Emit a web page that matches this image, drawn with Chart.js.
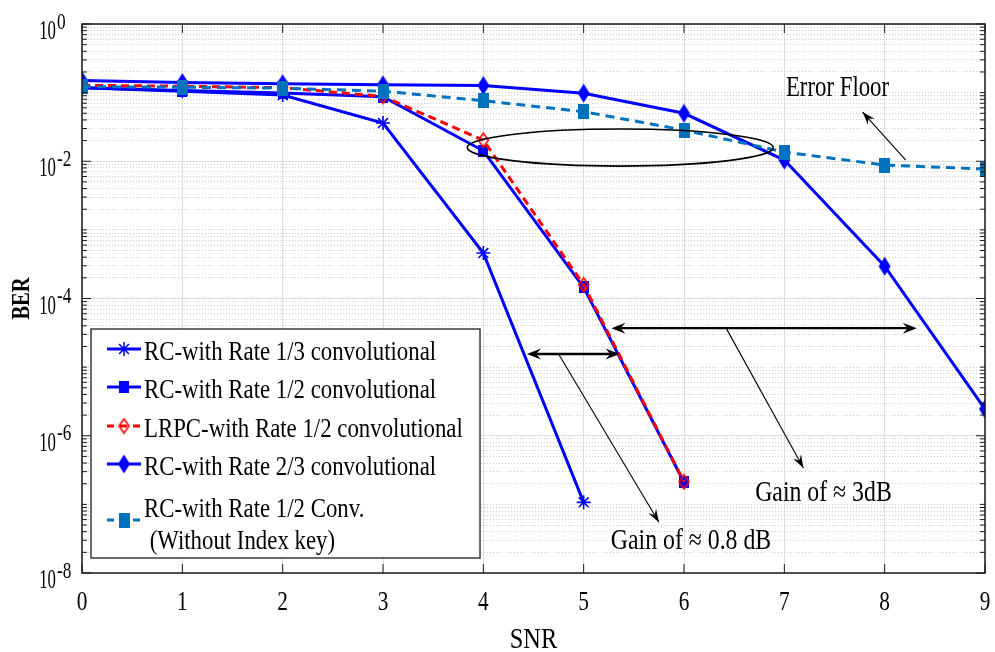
<!DOCTYPE html>
<html>
<head>
<meta charset="utf-8">
<script src="https://cdn.jsdelivr.net/npm/chart.js@4.4.1/dist/chart.umd.min.js"></script>
<style>
  html, body { margin: 0; padding: 0; background: #fff; }
  #wrap { width: 995px; height: 652px; }
</style>
</head>
<body>
<div id="wrap"><canvas id="berChart" width="995" height="652"></canvas></div>
<script>
// SNR (x) values and BER curves
const snr = [0, 1, 2, 3, 4, 5, 6, 7, 8, 9];
const berRate13 = [0.118, 0.105, 0.092, 0.036, 4.6e-4, 1.07e-7];
const berRate12 = [0.118, 0.107, 0.099, 0.087, 0.0142, 1.45e-4, 2.1e-7];
const berLrpc12 = [0.128, 0.124, 0.118, 0.088, 0.0203, 1.58e-4, 2.13e-7];
const berRate23 = [0.15, 0.14, 0.135, 0.13, 0.127, 0.098, 0.050, 0.0104, 2.95e-4, 2.45e-6];
const berNoIndex = [0.122, 0.12, 0.116, 0.105, 0.0762, 0.0527, 0.0285, 0.0136, 0.0088, 0.0077];

const seriesNames = [
  ["RC-with Rate 1/3 convolutional"],
  ["RC-with Rate 1/2 convolutional"],
  ["LRPC-with Rate 1/2 convolutional"],
  ["RC-with Rate 2/3 convolutional"],
  ["RC-with Rate 1/2 Conv.", " (Without Index key)"]
];

const xTicks = [0, 1, 2, 3, 4, 5, 6, 7, 8, 9];
const yTicks = [1, 1e-2, 1e-4, 1e-6, 1e-8];
const yTickExp = ["0", "-2", "-4", "-6", "-8"];

// annotations, in data units (SNR, BER)
const ellipseNote = { x0: 3.84, x1: 6.89, yTop: 0.0295, yBot: 0.0085 };
const errorFloorNote = { text: "Error Floor", x: 7.53, y: 0.125, from: [8.21, 0.0104], to: [7.78, 0.052] };
const gainSmall = { text: "Gain of \u2248 0.8 dB", x: 6.07, y: 3.1e-8, span: [4.435, 5.357, 1.55e-5], from: [4.75, 1.55e-5], to: [5.75, 5.5e-8] };
const gainBig = { text: "Gain of \u2248 3dB", x: 7.39, y: 1.55e-7, span: [5.277, 8.32, 3.7e-5], from: [6.42, 3.7e-5], to: [7.19, 3.4e-7] };

// minor grid values: k * 10^e, except the labelled decades
const yMinor = [];
for (let e = -8; e < 0; e++) {
  for (let k = 1; k <= 9; k++) {
    const v = k * Math.pow(10, e);
    if (!yTicks.some(t => Math.abs(t - v) < v * 1e-6)) yMinor.push(v);
  }
}

const BLUE = "#0000ff";
const RED = "#ff0000";
const STEEL = "#0072bd";
const FONT = '"Liberation Serif", "Times New Roman", serif';

function markerCanvas(w, h, draw) {
  const c = document.createElement("canvas");
  c.width = w; c.height = h;
  draw(c.getContext("2d"), w, h);
  return c;
}
function diamondPath(g, w, h, p) {
  g.beginPath();
  g.moveTo(w / 2, p); g.lineTo(w - p, h / 2); g.lineTo(w / 2, h - p); g.lineTo(p, h / 2);
  g.closePath();
}
const mkDiamond = markerCanvas(13, 20, (g, w, h) => { g.fillStyle = BLUE; diamondPath(g, w, h, 0.5); g.fill(); });
const mkOpenDiamond = markerCanvas(13, 17, (g, w, h) => { g.strokeStyle = RED; g.lineWidth = 1.6; diamondPath(g, w, h, 1.5); g.stroke(); });
const mkSquare = markerCanvas(10, 12, (g, w, h) => { g.fillStyle = BLUE; g.fillRect(0, 0, w, h); });
const mkSteelSquare = markerCanvas(11, 15, (g, w, h) => { g.fillStyle = STEEL; g.fillRect(0, 0, w, h); });

function pts(arr) {
  return arr.map((v, i) => ({ x: snr[i], y: v }));
}

function drawText(ctx, str, x, y, size, sx, align, weight) {
  ctx.save();
  ctx.translate(x, y + 0.33 * size);
  ctx.scale(sx, 1);
  ctx.font = (weight || "normal") + " " + size + "px " + FONT;
  ctx.textAlign = align || "center";
  ctx.textBaseline = "alphabetic";
  ctx.fillStyle = "#000";
  ctx.fillText(str, 0, 0);
  ctx.restore();
}

function arrowHead(ctx, x1, y1, x2, y2, len, wid) {
  const a = Math.atan2(y2 - y1, x2 - x1);
  ctx.save();
  ctx.translate(x2, y2);
  ctx.rotate(a);
  ctx.beginPath();
  ctx.moveTo(0, 0);
  ctx.lineTo(-len, -wid / 2);
  ctx.lineTo(-len * 0.65, 0);
  ctx.lineTo(-len, wid / 2);
  ctx.closePath();
  ctx.fill();
  ctx.restore();
}

function drawMarker(ctx, ds, x, y) {
  if (ds.pointStyle instanceof HTMLCanvasElement) {
    const m = ds.pointStyle;
    ctx.drawImage(m, x - m.width / 2, y - m.height / 2);
  } else if (ds.pointStyle === "star") {
    const r = ds.pointRadius;
    ctx.save();
    ctx.strokeStyle = ds.borderColor;
    ctx.lineWidth = 1.5;
    ctx.beginPath();
    for (let k = 0; k < 4; k++) {
      const a = k * Math.PI / 4;
      ctx.moveTo(x - r * Math.cos(a), y - r * Math.sin(a));
      ctx.lineTo(x + r * Math.cos(a), y + r * Math.sin(a));
    }
    ctx.stroke();
    ctx.restore();
  }
}

const annotations = {
  id: "annotations",
  afterDatasetsDraw(chart) {
    const ctx = chart.ctx;
    const xs = chart.scales.x, ys = chart.scales.y;
    const px = v => xs.getPixelForValue(v);
    const py = v => ys.getPixelForValue(v);
    ctx.save();
    ctx.strokeStyle = "#000";
    ctx.fillStyle = "#000";

    // ellipse round the crossing region
    const ex0 = px(ellipseNote.x0), ex1 = px(ellipseNote.x1);
    const ey0 = py(ellipseNote.yTop), ey1 = py(ellipseNote.yBot);
    ctx.lineWidth = 1.6;
    ctx.beginPath();
    ctx.ellipse((ex0 + ex1) / 2, (ey0 + ey1) / 2, (ex1 - ex0) / 2, (ey1 - ey0) / 2, 0, 0, Math.PI * 2);
    ctx.stroke();

    // pointer arrows
    [errorFloorNote, gainSmall, gainBig].forEach(n => {
      const x1 = px(n.from[0]), y1 = py(n.from[1]), x2 = px(n.to[0]), y2 = py(n.to[1]);
      ctx.lineWidth = 1.1;
      ctx.beginPath(); ctx.moveTo(x1, y1); ctx.lineTo(x2, y2); ctx.stroke();
      arrowHead(ctx, x1, y1, x2, y2, 13, 9);
    });

    // double arrows for the gains
    [gainSmall, gainBig].forEach(n => {
      const x1 = px(n.span[0]), x2 = px(n.span[1]), y = py(n.span[2]);
      ctx.lineWidth = 2.4;
      ctx.beginPath(); ctx.moveTo(x1 + 4, y); ctx.lineTo(x2 - 4, y); ctx.stroke();
      arrowHead(ctx, x2, y, x1, y, 14, 11);
      arrowHead(ctx, x1, y, x2, y, 14, 11);
    });

    drawText(ctx, errorFloorNote.text, px(errorFloorNote.x), py(errorFloorNote.y), 30, 0.76);
    drawText(ctx, gainSmall.text, px(gainSmall.x), py(gainSmall.y), 29, 0.82);
    drawText(ctx, gainBig.text, px(gainBig.x), py(gainBig.y), 29, 0.82);
    ctx.restore();
  },
  afterDraw(chart) {
    const ctx = chart.ctx;
    const a = chart.chartArea;
    const xs = chart.scales.x, ys = chart.scales.y;
    ctx.save();

    // axes box with inward ticks
    ctx.strokeStyle = "#1a1a1a";
    ctx.lineWidth = 1.5;
    ctx.strokeRect(a.left, a.top, a.right - a.left, a.bottom - a.top);
    ctx.lineWidth = 1;
    ctx.beginPath();
    xTicks.forEach(v => {
      const x = xs.getPixelForValue(v);
      ctx.moveTo(x, a.bottom); ctx.lineTo(x, a.bottom - 9);
      ctx.moveTo(x, a.top); ctx.lineTo(x, a.top + 9);
    });
    yTicks.forEach(v => {
      const y = ys.getPixelForValue(v);
      ctx.moveTo(a.left, y); ctx.lineTo(a.left + 9, y);
      ctx.moveTo(a.right, y); ctx.lineTo(a.right - 9, y);
    });
    yMinor.forEach(v => {
      const y = ys.getPixelForValue(v);
      ctx.moveTo(a.left, y); ctx.lineTo(a.left + 5, y);
      ctx.moveTo(a.right, y); ctx.lineTo(a.right - 5, y);
    });
    ctx.stroke();

    // tick labels
    xTicks.forEach(v => drawText(ctx, String(v), xs.getPixelForValue(v), 601, 28, 0.76));
    yTicks.forEach((v, i) => {
      const y = ys.getPixelForValue(v);
      drawText(ctx, "10", 56, y + 6, 28, 0.6, "right");
      drawText(ctx, yTickExp[i], 57, y - 3, 23, 0.75, "left");
    });

    // axis titles
    drawText(ctx, "SNR", (a.left + a.right) / 2, 638, 29, 0.84);
    ctx.save();
    ctx.translate(21, (a.top + a.bottom) / 2);
    ctx.rotate(-Math.PI / 2);
    ctx.scale(0.82, 1);
    ctx.font = "bold 25px " + FONT;
    ctx.textAlign = "center";
    ctx.textBaseline = "alphabetic";
    ctx.fillStyle = "#000";
    ctx.fillText("BER", 0, 0.33 * 25);
    ctx.restore();

    // legend box
    const lb = { x: 91, y: 329, w: 389, h: 229 };
    ctx.fillStyle = "#fff";
    ctx.fillRect(lb.x, lb.y, lb.w, lb.h);
    ctx.strokeStyle = "#3a3a3a";
    ctx.lineWidth = 1.5;
    ctx.strokeRect(lb.x, lb.y, lb.w, lb.h);
    const rows = [349, 387, 426, 464, 520];
    chart.data.datasets.forEach((ds, i) => {
      const y = rows[i];
      ctx.save();
      ctx.strokeStyle = ds.borderColor;
      ctx.lineWidth = ds.borderWidth;
      ctx.setLineDash(ds.borderDash && ds.borderDash.length ? [7, 6] : []);
      ctx.beginPath(); ctx.moveTo(107, y); ctx.lineTo(141, y); ctx.stroke();
      ctx.restore();
      drawMarker(ctx, ds, 124, y);
      const lines = seriesNames[i];
      if (lines.length === 1) {
        drawText(ctx, lines[0], 144, y + 2, 27, 0.845, "left");
      } else {
        drawText(ctx, lines[0], 144, y - 12, 27, 0.845, "left");
        drawText(ctx, lines[1], 144, y + 20, 27, 0.845, "left");
      }
    });
    ctx.restore();
  }
};

const datasets = [
  { data: pts(berRate13), borderColor: BLUE, borderWidth: 3, pointStyle: "star", pointRadius: 7, pointBorderWidth: 1.6, order: 5 },
  { data: pts(berRate12), borderColor: BLUE, borderWidth: 3, pointStyle: mkSquare, pointRadius: 5, order: 4 },
  { data: pts(berLrpc12), borderColor: RED, borderWidth: 3, borderDash: [8, 5], pointStyle: mkOpenDiamond, pointRadius: 6, order: 3 },
  { data: pts(berRate23), borderColor: BLUE, borderWidth: 3, pointStyle: mkDiamond, pointRadius: 7, order: 2 },
  { data: pts(berNoIndex), borderColor: STEEL, borderWidth: 3, borderDash: [9, 6], pointStyle: mkSteelSquare, pointRadius: 6, order: 1 }
];
datasets.forEach(ds => {
  ds.backgroundColor = ds.borderColor;
  ds.pointBackgroundColor = ds.borderColor;
  ds.pointBorderColor = ds.borderColor;
  ds.fill = false;
  ds.tension = 0;
  ds.yAxisID = "y";
});

new Chart(document.getElementById("berChart").getContext("2d"), {
  type: "line",
  data: { datasets: datasets },
  options: {
    responsive: false,
    animation: false,
    devicePixelRatio: 1,
    layout: { padding: { left: 82, right: 4, top: 24, bottom: 79 } },
    plugins: { legend: { display: false }, tooltip: { enabled: false } },
    scales: {
      x: {
        type: "linear", min: 0, max: 9,
        afterBuildTicks: s => { s.ticks = xTicks.map(v => ({ value: v })); },
        afterFit: s => { s.height = 0; },
        ticks: { display: false },
        grid: { color: "#dddddd", lineWidth: 1, drawTicks: false },
        border: { display: false }
      },
      y: {
        type: "logarithmic", min: 1e-8, max: 1, position: "left",
        afterBuildTicks: s => { s.ticks = yTicks.map(v => ({ value: v })); },
        afterFit: s => { s.width = 0; },
        ticks: { display: false },
        grid: { color: "#dddddd", lineWidth: 1, drawTicks: false },
        border: { display: false }
      },
      yMinor: {
        type: "logarithmic", min: 1e-8, max: 1, position: "left",
        afterBuildTicks: s => { s.ticks = yMinor.map(v => ({ value: v })); },
        afterFit: s => { s.width = 0; },
        ticks: { display: false },
        grid: { color: "#cfcfcf", lineWidth: 1, drawTicks: false },
        border: { display: false, dash: [1, 2] }
      }
    }
  },
  plugins: [annotations]
});
</script>
</body>
</html>
